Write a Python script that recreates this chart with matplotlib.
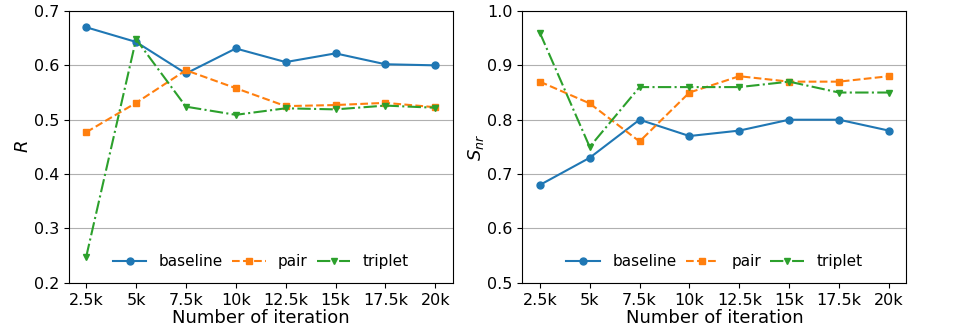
import matplotlib
matplotlib.use("Agg")
import matplotlib.pyplot as plt

iterations = ["2.5k", "5k", "7.5k", "10k", "12.5k", "15k", "17.5k", "20k"]

r_baseline = [0.670, 0.643, 0.585, 0.631, 0.606, 0.622, 0.602, 0.600]
r_pair = [0.477, 0.531, 0.591, 0.558, 0.525, 0.527, 0.531, 0.523]
r_triplet = [0.248, 0.648, 0.524, 0.509, 0.521, 0.519, 0.526, 0.522]

s_baseline = [0.68, 0.73, 0.80, 0.77, 0.78, 0.80, 0.80, 0.78]
s_pair = [0.87, 0.83, 0.76, 0.85, 0.88, 0.87, 0.87, 0.88]
s_triplet = [0.96, 0.75, 0.86, 0.86, 0.86, 0.87, 0.85, 0.85]

plt.rcParams["font.size"] = 11.5

fig = plt.figure(figsize=(9.55, 3.32), dpi=100)
ax1 = fig.add_axes([0.072, 0.148, 0.402, 0.819])
ax2 = fig.add_axes([0.547, 0.148, 0.402, 0.819])

x = list(range(len(iterations)))


def draw(ax, base, pair, trip, ylim, ylabel):
    ax.plot(x, base, label="baseline", marker="o", markersize=5, color="#1f77b4", linestyle="-")
    ax.plot(x, pair, label="pair", marker="s", markersize=5, color="#ff7f0e", linestyle="--")
    ax.plot(x, trip, label="triplet", marker="v", markersize=5, color="#2ca02c", linestyle="-.")
    ax.set_ylim(*ylim)
    ax.set_xticks(x)
    ax.set_xticklabels(iterations)
    ax.set_xlabel("Number of iteration", fontsize=13, labelpad=1)
    ax.set_ylabel(ylabel, fontsize=13, labelpad=1)
    ax.yaxis.grid(True, color="#b0b0b0", linewidth=0.8)
    ax.legend(loc="lower center", ncol=3, frameon=False, fontsize=11,
              handlelength=2.2, columnspacing=0.6)


draw(ax1, r_baseline, r_pair, r_triplet, (0.2, 0.7), "$R$")
draw(ax2, s_baseline, s_pair, s_triplet, (0.5, 1.0), "$S_{nr}$")

fig.savefig("out.png", dpi=100)
